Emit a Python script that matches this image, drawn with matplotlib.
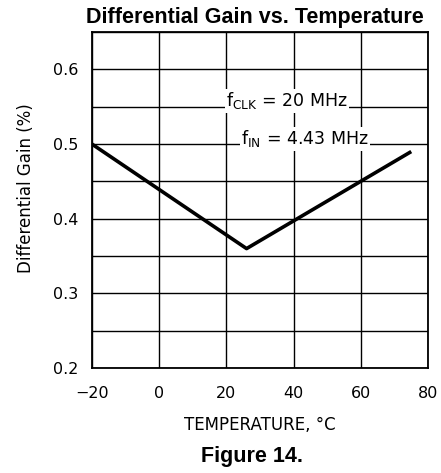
import matplotlib
matplotlib.use("Agg")
import matplotlib.pyplot as plt

# data
temp = [-20, 26, 75]
gain = [0.50, 0.36, 0.49]
xticks = [-20, 0, 20, 40, 60, 80]
yticks = [0.2, 0.3, 0.4, 0.5, 0.6]

plt.rcParams["font.family"] = ["DejaVu Sans"]

fig = plt.figure(figsize=(4.41, 4.73), dpi=100)
ax = fig.add_axes([0.2086, 0.222, 0.762, 0.710])

ax.plot(temp, gain, color="black", linewidth=2.6, solid_capstyle="butt", zorder=3)

ax.set_xlim(-20, 80)
ax.set_ylim(0.2, 0.65)
ax.set_xticks(xticks)
ax.set_yticks(yticks)
ax.set_xticklabels(["\u221220", "0", "20", "40", "60", "80"])
ax.set_yticks([0.25, 0.35, 0.45, 0.55, 0.65], minor=True)
ax.grid(True, which="both", color="black", linewidth=1.0)
ax.tick_params(which="both", length=0, labelsize=11.5, pad=10)
ax.tick_params(axis="x", pad=13)
for s in ax.spines.values():
    s.set_linewidth(1.3)

# labels placed in figure coords to match the reference offsets
fig.text(260 / 441, 1 - 425 / 473, "TEMPERATURE, \u00b0C", fontsize=12,
         ha="center", va="center")
fig.text(26 / 441, 1 - 188 / 473, "Differential Gain (%)", fontsize=12,
         ha="center", va="center", rotation=90)

box = dict(facecolor="white", edgecolor="none", pad=1.0)
ax.text(38, 0.558, r"f$_{\mathregular{CLK}}$ = 20 MHz", fontsize=12.5,
        ha="center", va="center", bbox=box, zorder=4)
ax.text(43.4, 0.507, r"f$_{\mathregular{IN}}$ = 4.43 MHz", fontsize=12.5,
        ha="center", va="center", bbox=box, zorder=4)

fig.text(255 / 441, 1 - 18 / 473, "Differential Gain vs. Temperature", ha="center", va="center",
         fontsize=15.5, fontweight="bold", family=["Liberation Sans", "DejaVu Sans"])
fig.text(252 / 441, 1 - 456 / 473, "Figure 14.", ha="center", va="center",
         fontsize=15.5, fontweight="bold", family=["Liberation Sans", "DejaVu Sans"])

fig.savefig("out.png", dpi=100)
